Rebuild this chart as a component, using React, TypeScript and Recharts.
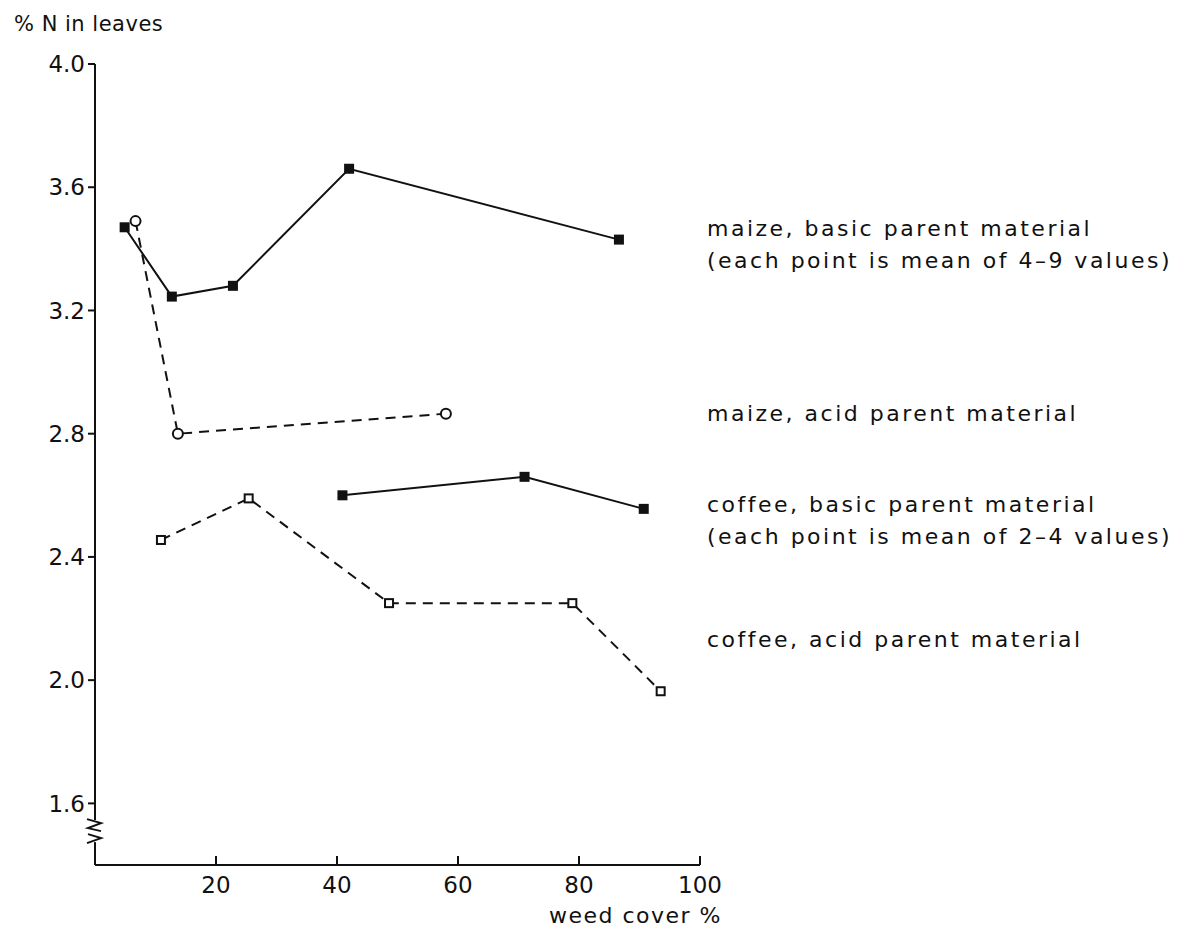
import { LineChart, Line, XAxis, YAxis, ReferenceDot } from 'recharts';

// values (weed cover %, %N in leaves)
const maizeBasicCover = [4.9, 12.7, 22.8, 42, 86.6];
const maizeBasicN = [3.47, 3.245, 3.28, 3.66, 3.43];
const maizeAcidCover = [6.7, 13.7, 58];
const maizeAcidN = [3.49, 2.8, 2.865];
const coffeeBasicCover = [40.9, 71, 90.7];
const coffeeBasicN = [2.6, 2.66, 2.556];
const coffeeAcidCover = [10.9, 25.4, 48.6, 78.9, 93.5];
const coffeeAcidN = [2.455, 2.59, 2.25, 2.25, 1.964];

const xTicks = [20, 40, 60, 80, 100];
const yTicks = [1.6, 2.0, 2.4, 2.8, 3.2, 3.6, 4.0];

const notes = [
  { lines: ['maize, basic parent material', '(each point is mean of 4–9 values)'], top: 216 },
  { lines: ['maize, acid parent material'], top: 401 },
  { lines: ['coffee, basic parent material', '(each point is mean of 2–4 values)'], top: 492 },
  { lines: ['coffee, acid parent material'], top: 627 },
];

const FONT = '"DejaVu Sans", sans-serif';
const INK = '#111';

const toPoints = (xs: number[], ys: number[]) => xs.map((x, i) => ({ x, y: ys[i] }));

const FilledSquare = (props: any) => {
  const { cx, cy, index } = props;
  if (cx == null || cy == null) return <g key={index} />;
  return <rect key={index} x={cx - 5} y={cy - 5} width={10} height={10} fill={INK} />;
};

const OpenCircle = (props: any) => {
  const { cx, cy, index } = props;
  if (cx == null || cy == null) return <g key={index} />;
  return <circle key={index} cx={cx} cy={cy} r={5} fill="#fff" stroke={INK} strokeWidth={2} />;
};

const OpenSquare = (props: any) => {
  const { cx, cy, index } = props;
  if (cx == null || cy == null) return <g key={index} />;
  return <rect key={index} x={cx - 4} y={cy - 4} width={8} height={8} fill="#fff" stroke={INK} strokeWidth={2} />;
};

const XTick = (props: any) => {
  const { x, y, payload } = props;
  return (
    <g>
      <line x1={x} y1={y} x2={x} y2={y - 9} stroke={INK} strokeWidth={2} />
      <text x={x} y={y + 28} textAnchor="middle" fontSize={23} fill={INK} fontFamily={FONT}>
        {payload.value}
      </text>
    </g>
  );
};

// zigzag break drawn across the y axis
const AxisBreak = (props: any) => {
  const { cx, cy } = props;
  if (cx == null || cy == null) return <g />;
  return (
    <g>
      <rect x={cx - 5} y={cy - 11} width={10} height={22} fill="#fff" />
      <path
        d={`M${cx - 8} ${cy - 12} L${cx + 6} ${cy - 8} L${cx - 7} ${cy - 3} L${cx + 6} ${cy}`}
        fill="none"
        stroke={INK}
        strokeWidth={2}
      />
      <path
        d={`M${cx - 7} ${cy + 3} L${cx + 6} ${cy + 7} L${cx - 8} ${cy + 12}`}
        fill="none"
        stroke={INK}
        strokeWidth={2}
      />
    </g>
  );
};

export default function App() {
  return (
    <div
      style={{
        position: 'absolute',
        left: 0,
        top: 0,
        width: 1192,
        height: 931,
        background: '#fff',
        fontFamily: FONT,
        color: INK,
      }}
    >
      <LineChart
        width={1192}
        height={931}
        margin={{ top: 64, right: 492, left: 35, bottom: 26 }}
      >
        <XAxis
          type="number"
          dataKey="x"
          domain={[0, 100]}
          ticks={xTicks}
          tick={<XTick />}
          tickLine={false}
          tickSize={0}
          tickMargin={0}
          height={40}
          axisLine={{ stroke: INK, strokeWidth: 2 }}
          allowDataOverflow
        />
        <YAxis
          type="number"
          dataKey="y"
          domain={[1.4, 4.0]}
          ticks={yTicks}
          tickFormatter={(v: number) => v.toFixed(1)}
          width={60}
          tickSize={7}
          tickMargin={3}
          tick={{ fontSize: 23, fill: INK, fontFamily: FONT }}
          tickLine={{ stroke: INK, strokeWidth: 2 }}
          axisLine={{ stroke: INK, strokeWidth: 2 }}
          allowDataOverflow
        />
        <Line
          data={toPoints(maizeBasicCover, maizeBasicN)}
          dataKey="y"
          stroke={INK}
          strokeWidth={2}
          dot={<FilledSquare />}
          activeDot={false}
          isAnimationActive={false}
        />
        <Line
          data={toPoints(maizeAcidCover, maizeAcidN)}
          dataKey="y"
          stroke={INK}
          strokeWidth={2}
          strokeDasharray="10 7"
          dot={<OpenCircle />}
          activeDot={false}
          isAnimationActive={false}
        />
        <Line
          data={toPoints(coffeeBasicCover, coffeeBasicN)}
          dataKey="y"
          stroke={INK}
          strokeWidth={2}
          dot={<FilledSquare />}
          activeDot={false}
          isAnimationActive={false}
        />
        <Line
          data={toPoints(coffeeAcidCover, coffeeAcidN)}
          dataKey="y"
          stroke={INK}
          strokeWidth={2}
          strokeDasharray="10 7"
          dot={<OpenSquare />}
          activeDot={false}
          isAnimationActive={false}
        />
        <ReferenceDot x={0} y={1.51} r={0} ifOverflow="visible" shape={<AxisBreak />} />
      </LineChart>

      <div style={{ position: 'absolute', left: 14, top: 12, fontSize: 21, letterSpacing: 0.5 }}>
        % N in leaves
      </div>
      <div style={{ position: 'absolute', left: 540, top: 903, width: 182, textAlign: 'right', fontSize: 22, letterSpacing: 1.5 }}>
        weed cover %
      </div>
      {notes.map((n) =>
        n.lines.map((line, j) => (
          <div
            key={line}
            style={{
              position: 'absolute',
              left: 707,
              top: n.top + j * 32,
              fontSize: 22,
              letterSpacing: 2.5,
              whiteSpace: 'nowrap',
              lineHeight: '26px',
            }}
          >
            {line}
          </div>
        ))
      )}
    </div>
  );
}
